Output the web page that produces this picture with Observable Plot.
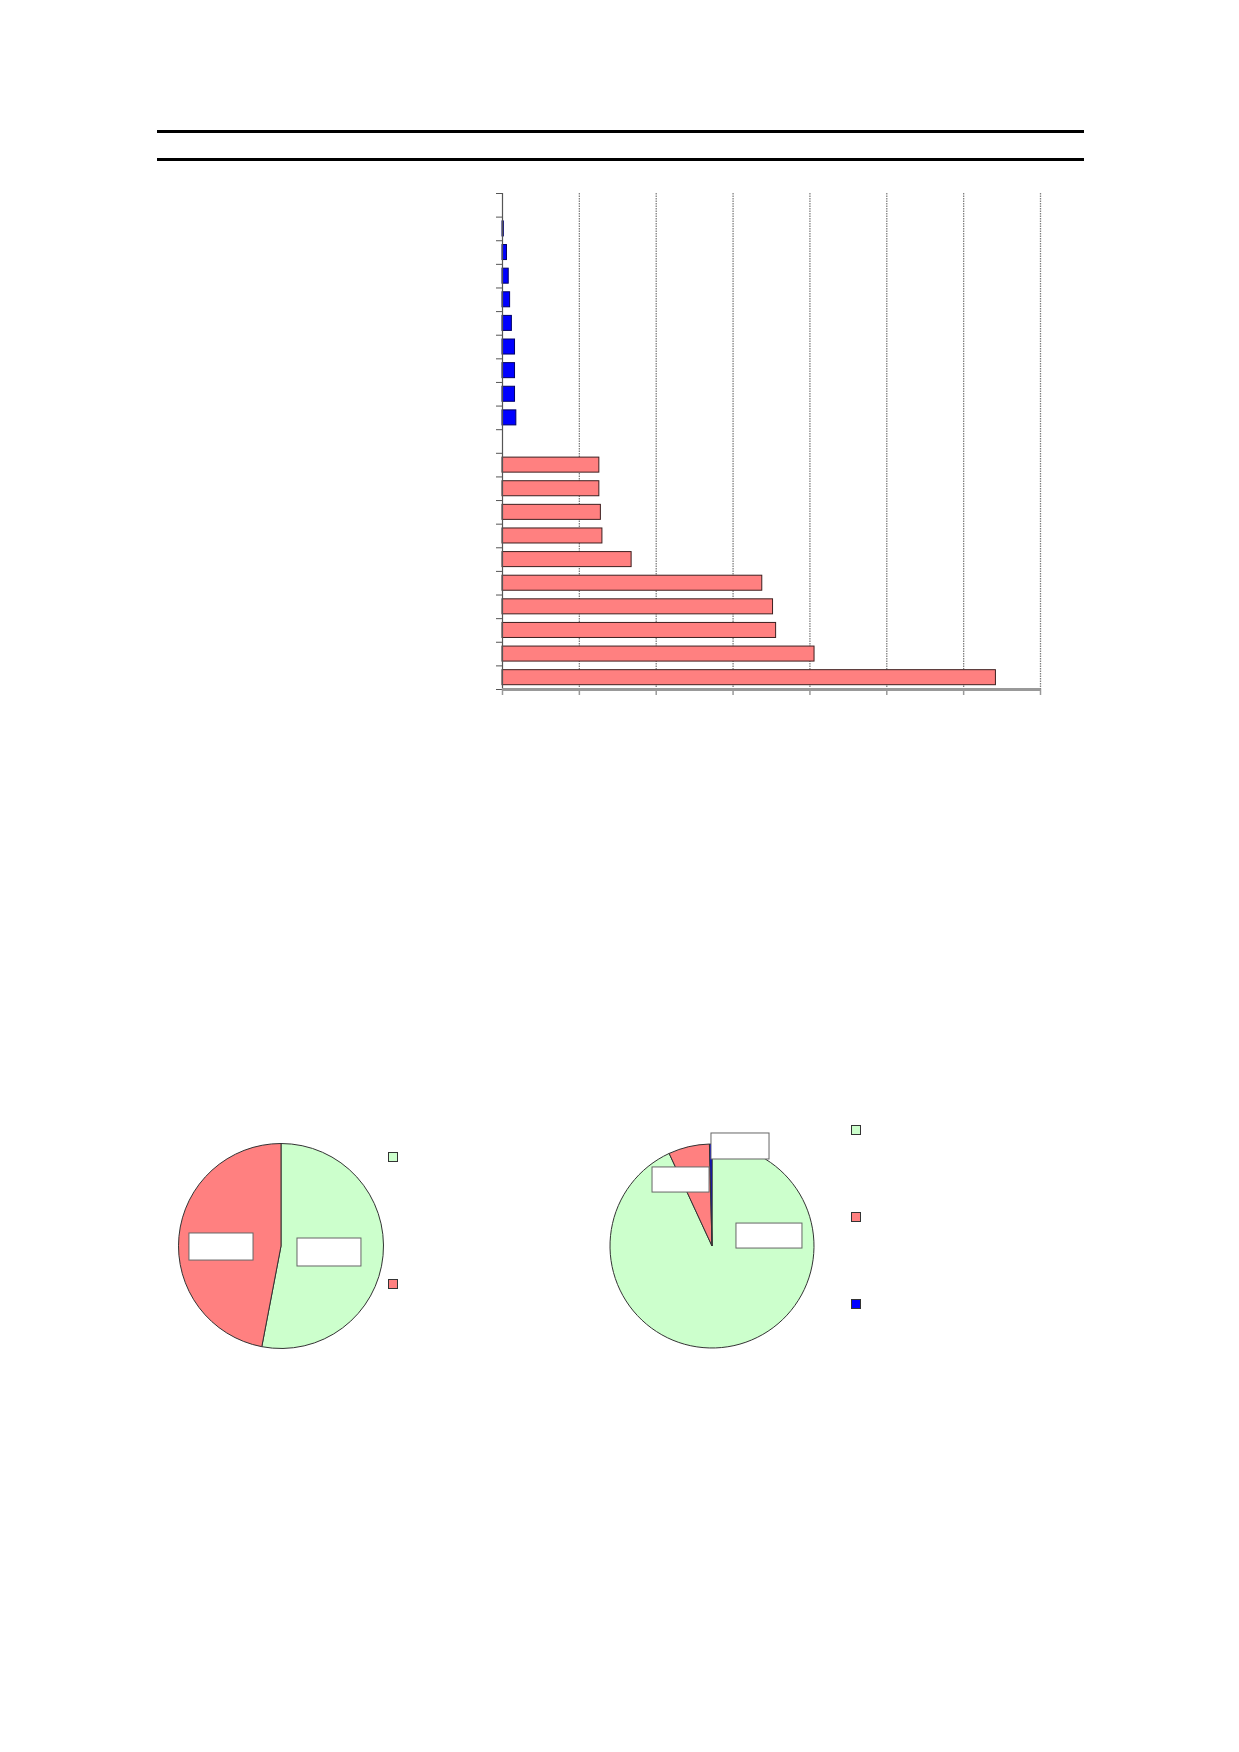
<!DOCTYPE html>
<html>
<head>
<meta charset="utf-8">
<script src="https://cdn.jsdelivr.net/npm/d3@7"></script>
<script src="https://cdn.jsdelivr.net/npm/@observablehq/plot@0.6"></script>
<style>
html, body { margin: 0; padding: 0; background: #fff; }
#page { position: relative; width: 1239px; height: 1752px; background: #fff; overflow: hidden; font-family: "Liberation Sans", Arial, sans-serif; }
.abs { position: absolute; }
.hrule { position: absolute; background: #000; }
.key { position: absolute; width: 8px; height: 8px; border: 1px solid #333; }
</style>
</head>
<body>
<div id="page"></div>
<script>
// ---------- data ----------
// bar chart (top to bottom): an empty row, blue series, an empty row, red series
const blueValues = [0.17, 0.58, 0.81, 0.99, 1.22, 1.63, 1.63, 1.63, 1.80];
const redValues  = [12.6, 12.6, 12.8, 13.0, 16.8, 33.8, 35.2, 35.6, 40.6, 64.2];
const xTicks = [0, 10, 20, 30, 40, 50, 60, 70];

// pies (clockwise from 12 o'clock)
const pie1Values = [53.0, 47.0];
const pie1Colors = ["#ccffcc", "#ff8080"];
const pie2Values = [93.1, 6.5, 0.4];
const pie2Colors = ["#ccffcc", "#ff8080", "#0000ff"];

// ---------- layout ----------
const page = document.getElementById("page");
function place(el, left, top) {
  const wrap = document.createElement("div");
  wrap.className = "abs";
  wrap.style.left = left + "px";
  wrap.style.top = top + "px";
  wrap.appendChild(el);
  page.appendChild(wrap);
  return wrap;
}
function hrule(left, top, width, h) {
  const d = document.createElement("div");
  d.className = "hrule";
  Object.assign(d.style, {left: left + "px", top: top + "px", width: width + "px", height: h + "px"});
  page.appendChild(d);
}
hrule(157, 130, 927, 3);
hrule(157, 158, 927, 3);

// ---------- bar chart ----------
const blueRows = blueValues.map((v, i) => ({row: 1 + i, value: v}));
const redRows = redValues.map((v, i) => ({row: blueValues.length + 2 + i, value: v}));
const nRows = blueValues.length + redValues.length + 2;

const bars = Plot.plot({
  width: 620, height: 529,
  marginLeft: 62, marginRight: 20, marginTop: 13, marginBottom: 20,
  x: {domain: [0, 70], label: null},
  y: {domain: [nRows, 0], label: null},
  marks: [
    Plot.ruleX(xTicks.slice(1), {stroke: "#808080", strokeDasharray: "1.5,1", strokeWidth: 1.3}),
    Plot.rect(blueRows, {x1: 0, x2: "value", y1: "row", y2: d => d.row + 1,
      insetTop: 4.3, insetBottom: 4.3, fill: "#0000ff", stroke: "#000066", strokeWidth: 1}),
    Plot.rect(redRows, {x1: 0, x2: "value", y1: "row", y2: d => d.row + 1,
      insetTop: 4.3, insetBottom: 4.3, fill: "#ff8080", stroke: "#3d1f1f", strokeWidth: 1}),
    Plot.axisY({ticks: d3.range(0, nRows + 1), tickSize: 6, tickFormat: () => "", stroke: "#555", label: null}),
    Plot.ruleX([0], {stroke: "#555", strokeWidth: 1.2}),
    Plot.axisX({ticks: xTicks, tickSize: 6, tickFormat: () => "", stroke: "#999", strokeWidth: 1.5, label: null}),
    Plot.ruleY([nRows], {stroke: "#999", strokeWidth: 3})
  ]
});
place(bars, 440, 180);

// ---------- pies ----------
function pieMark(values, colors) {
  return (index, scales) => {
    const cx = scales.x(0), cy = scales.y(0), r = scales.x(1) - scales.x(0);
    const arcs = d3.pie().sort(null).value(d => d)(values);
    const arc = d3.arc().innerRadius(0).outerRadius(r);
    const g = d3.create("svg:g").attr("transform", `translate(${cx},${cy})`);
    g.selectAll("path").data(arcs).join("path")
      .attr("d", arc)
      .attr("fill", (d, i) => colors[i])
      .attr("stroke", "#333")
      .attr("stroke-width", 1)
      .attr("stroke-linejoin", "round");
    return g.node();
  };
}
function piePlot(values, colors, boxes, r) {
  return Plot.plot({
    width: 260, height: 280, margin: 0,
    x: {domain: [-1, 1], range: [130 - r, 130 + r], axis: null},
    y: {domain: [-1, 1], range: [150 + r, 150 - r], axis: null},
    marks: [
      pieMark(values, colors),
      Plot.rect(boxes, {x1: "x1", x2: "x2", y1: "y1", y2: "y2", fill: "#fff", stroke: "#666", strokeWidth: 1})
    ]
  });
}
// empty data-label boxes, in units of the pie radius from its centre
const pie1Boxes = [
  {x1: -0.898, x2: -0.273, y1: 0.127, y2: -0.137},
  {x1: 0.156, x2: 0.780, y1: 0.078, y2: -0.195}
];
const pie2Boxes = [
  {x1: -0.010, x2: 0.559, y1: 1.108, y2: 0.853},
  {x1: -0.588, x2: -0.029, y1: 0.775, y2: 0.529},
  {x1: 0.235, x2: 0.882, y1: 0.225, y2: -0.020}
];
place(piePlot(pie1Values, pie1Colors, pie1Boxes, 102.5), 281 - 130, 1246 - 150);
place(piePlot(pie2Values, pie2Colors, pie2Boxes, 102), 712 - 130, 1246 - 150);

// legend keys
function key(left, top, color) {
  const d = document.createElement("div");
  d.className = "key";
  Object.assign(d.style, {left: left + "px", top: top + "px", background: color});
  page.appendChild(d);
}
key(388, 1152, pie1Colors[0]);
key(388, 1279, pie1Colors[1]);
key(851, 1125, pie2Colors[0]);
key(851, 1212, pie2Colors[1]);
key(851, 1299, pie2Colors[2]);
</script>
</body>
</html>
